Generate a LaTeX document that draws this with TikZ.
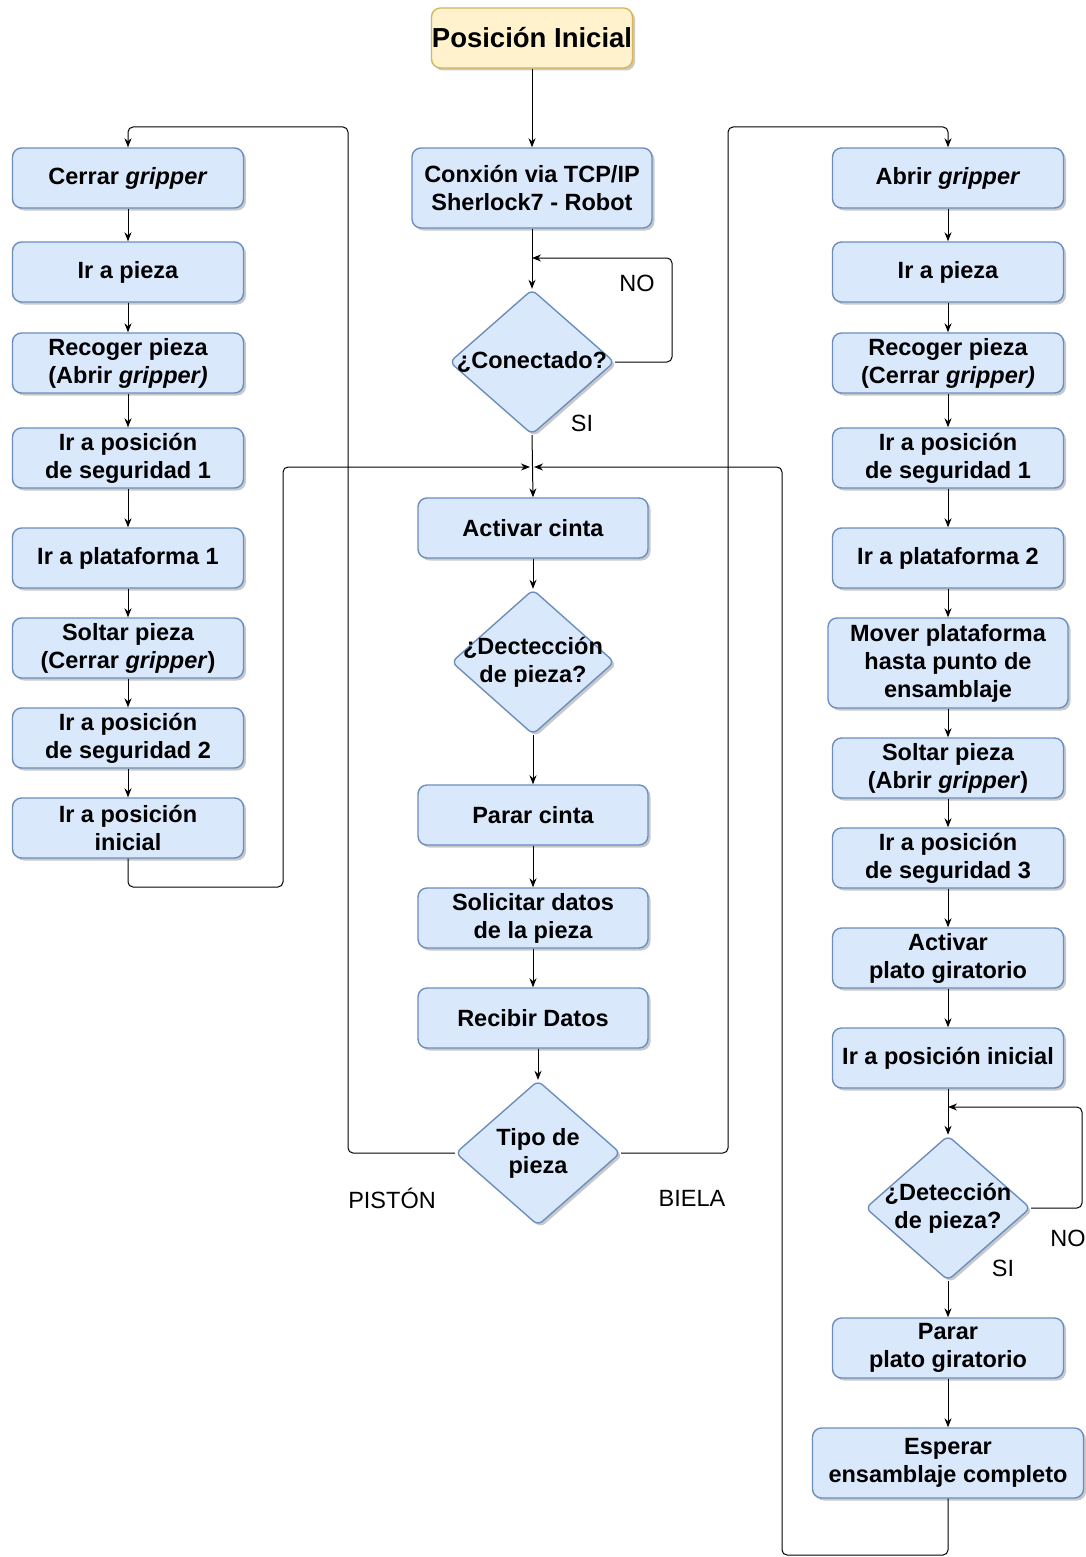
\documentclass[tikz,border=0pt]{standalone}
\usepackage{fontspec}
\setmainfont{Liberation Sans}
\usetikzlibrary{shapes.geometric,arrows.meta,shadows,calc}
\definecolor{boxfill}{HTML}{DAE8FC}
\definecolor{boxline}{HTML}{6C8EBF}
\definecolor{startfill}{HTML}{FFF2CC}
\definecolor{startline}{HTML}{D6B656}
\tikzset{
  shd/.style={drop shadow={shadow xshift=2.5pt,shadow yshift=-2.5pt,opacity=0.35,fill=black!60}},
  procbox/.style={rectangle,rounded corners=9pt,draw=boxline,fill=boxfill,line width=1.4pt,
    minimum width=231pt,minimum height=60pt,inner sep=0pt,align=center,shd,
    font=\fontsize{23.5}{28}\selectfont\bfseries},
  startbox/.style={rectangle,rounded corners=9pt,draw=startline,fill=startfill,line width=1.4pt,
    minimum width=201pt,minimum height=60pt,inner sep=0pt,align=center,shd,
    font=\fontsize{27.5}{32}\selectfont\bfseries},
  decbox/.style={diamond,draw=boxline,fill=boxfill,line width=1.4pt,rounded corners=6pt,
    minimum width=165pt,minimum height=145pt,inner sep=0pt,shd},
  dectext/.style={align=center,font=\fontsize{23.5}{28}\selectfont\bfseries},
  lbl/.style={font=\fontsize{23.5}{28}\selectfont,inner sep=0pt},
  conn/.style={line width=1pt,rounded corners=5pt},
  arr/.style={conn,-{Stealth[length=9pt,width=7pt]}}
}
\begin{document}
\begin{tikzpicture}[x=1pt,y=-1pt]
\useasboundingbox[fill=white] (0,0) rectangle (1086,1557);

% centre column
\node[startbox] (ini) at (532,38) {Posición Inicial};
\node[procbox,minimum width=240pt,minimum height=80pt] (tcp) at (532,188) {Conxión via TCP/IP\\Sherlock7 - Robot};
\node[decbox,label={[dectext]center:¿Conectado?}] (dcon) at (532,362) {};
\node[procbox,minimum width=230pt] (act) at (533,528) {Activar cinta};
\node[decbox,minimum width=163pt,label={[dectext]center:¿Dectección\\de pieza?}] (ddet) at (533,662) {};
\node[procbox,minimum width=230pt] (par) at (533,815) {Parar cinta};
\node[procbox,minimum width=230pt] (sol) at (533,918) {Solicitar datos\\de la pieza};
\node[procbox,minimum width=230pt] (rec) at (533,1018) {Recibir Datos};
\node[decbox,label={[dectext]center:Tipo de\\pieza}] (tipo) at (538,1153) {};

% left column
\node[procbox] (l1) at (128,178) {Cerrar \textit{gripper}};
\node[procbox] (l2) at (128,272) {Ir a pieza};
\node[procbox] (l3) at (128,363) {Recoger pieza\\(Abrir \textit{gripper)}};
\node[procbox] (l4) at (128,458) {Ir a posición\\de seguridad 1};
\node[procbox] (l5) at (128,558) {Ir a plataforma 1};
\node[procbox] (l6) at (128,648) {Soltar pieza\\(Cerrar \textit{gripper})};
\node[procbox] (l7) at (128,738) {Ir a posición\\de seguridad 2};
\node[procbox] (l8) at (128,828) {Ir a posición\\inicial};

% right column
\node[procbox] (r1) at (948,178) {Abrir \textit{gripper}};
\node[procbox] (r2) at (948,272) {Ir a pieza};
\node[procbox] (r3) at (948,363) {Recoger pieza\\(Cerrar \textit{gripper)}};
\node[procbox] (r4) at (948,458) {Ir a posición\\de seguridad 1};
\node[procbox] (r5) at (948,558) {Ir a plataforma 2};
\node[procbox,minimum width=240pt,minimum height=90pt] (r6) at (948,663) {Mover plataforma\\hasta punto de\\ensamblaje};
\node[procbox] (r7) at (948,768) {Soltar pieza\\(Abrir \textit{gripper})};
\node[procbox] (r8) at (948,858) {Ir a posición\\de seguridad 3};
\node[procbox] (r9) at (948,958) {Activar\\plato giratorio};
\node[procbox] (r10) at (948,1058) {Ir a posición inicial};
\node[decbox,label={[dectext]center:¿Detección\\de pieza?}] (dr) at (948,1208) {};
\node[procbox] (r11) at (948,1348) {Parar\\plato giratorio};
\node[procbox,minimum width=271pt,minimum height=70pt] (r12) at (948,1463) {Esperar\\ensamblaje completo};

% labels
\node[lbl] (no1) at (637,283) {NO};
\node[lbl] (si1) at (582,423) {SI};
\node[lbl] (pis) at (392,1198) {PISTÓN};
\node[lbl] (bie) at (692,1198) {BIELA};
\node[lbl] (no2) at (1068,1238) {NO};
\node[lbl] (si2) at (1003,1268) {SI};

% helper coordinates
\coordinate (c1) at (532,258);
\coordinate (j1) at (532,467);
\coordinate (c2) at (948,1107);

% centre connectors
\draw[arr] (ini.south) -- (tcp.north);
\draw[arr] (tcp.south) -- (dcon.north);
\draw[arr] (dcon.east) -| (672,300) |- (c1);
\draw[arr] (dcon.south) -- (act.north);
\draw[arr] (act.south) -- (ddet.north);
\draw[arr] (ddet.south) -- (par.north);
\draw[arr] (par.south) -- (sol.north);
\draw[arr] (sol.south) -- (rec.north);
\draw[arr] (rec.south -| tipo.north) -- (tipo.north);
\draw[arr] (tipo.west) -| (348,300) |- (200,127) -| (l1.north);
\draw[arr] (tipo.east) -| (728,300) |- (850,127) -| (r1.north);

% left column
\draw[arr] (l1) -- (l2);
\draw[arr] (l2) -- (l3);
\draw[arr] (l3) -- (l4);
\draw[arr] (l4) -- (l5);
\draw[arr] (l5) -- (l6);
\draw[arr] (l6) -- (l7);
\draw[arr] (l7) -- (l8);
\draw[arr] (l8.south) |- (283,887) |- ($(j1)+(-2,0)$);

% right column
\draw[arr] (r1) -- (r2);
\draw[arr] (r2) -- (r3);
\draw[arr] (r3) -- (r4);
\draw[arr] (r4) -- (r5);
\draw[arr] (r5) -- (r6);
\draw[arr] (r6) -- (r7);
\draw[arr] (r7) -- (r8);
\draw[arr] (r8) -- (r9);
\draw[arr] (r9) -- (r10);
\draw[arr] (r10.south) -- (dr.north);
\draw[arr] (dr.east) -| (1082,1150) |- (c2);
\draw[arr] (dr.south) -- (r11.north);
\draw[arr] (r11) -- (r12);
\draw[arr] (r12.south) |- (860,1555) -| (782,1000) |- ($(j1)+(2,0)$);
\end{tikzpicture}
\end{document}
